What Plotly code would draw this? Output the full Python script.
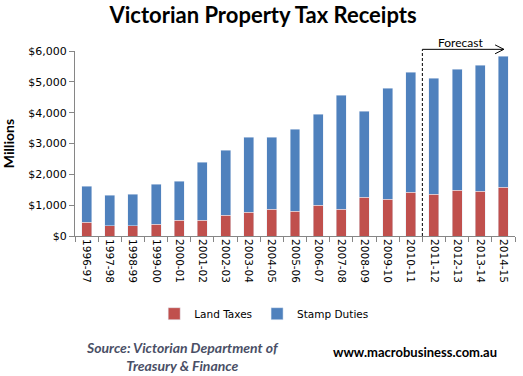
import plotly.graph_objects as go

years = ["1996-97", "1997-98", "1998-99", "1999-00", "2000-01", "2001-02", "2002-03",
         "2003-04", "2004-05", "2005-06", "2006-07", "2007-08", "2008-09", "2009-10",
         "2010-11", "2011-12", "2012-13", "2013-14", "2014-15"]
land_taxes = [443, 335, 335, 378, 508, 508, 670, 778, 865, 800, 995, 865, 1254, 1189,
              1427, 1362, 1492, 1449, 1578]
totals = [1611, 1319, 1351, 1676, 1773, 2389, 2778, 3200, 3200, 3459, 3946, 4562, 4043,
          4789, 5308, 5113, 5405, 5535, 5827]
stamp_duties = [t - l for t, l in zip(totals, land_taxes)]
y_ticks = [0, 1000, 2000, 3000, 4000, 5000, 6000]
y_tick_labels = ["$0", "$1,000", "$2,000", "$3,000", "$4,000", "$5,000", "$6,000"]

RED = "#C0504D"
BLUE = "#4F81BD"
TICKFONT = "DejaVu Sans"

fig = go.Figure()
fig.add_bar(x=years, y=land_taxes, name="Land Taxes", marker_color=RED)
fig.add_bar(x=years, y=stamp_duties, name="Stamp Duties", marker_color=BLUE)

fig.update_layout(
    barmode="stack",
    bargap=0.57,
    width=523, height=376,
    margin=dict(l=71, r=8, t=51, b=140),
    paper_bgcolor="white", plot_bgcolor="white",
    showlegend=True,
    legend=dict(orientation="h", x=0.43, xanchor="center", y=-0.42, yanchor="middle",
                font=dict(family=TICKFONT, size=10.5, color="black"),
                itemwidth=30, traceorder="normal"),
    title=dict(text="<b>Victorian Property Tax Receipts</b>", x=0.503, xanchor="center",
               y=0.96, yanchor="middle",
               font=dict(family="Lato", size=22, color="black")),
)
fig.update_yaxes(range=[0, 6000], tickvals=y_ticks, ticktext=y_tick_labels,
                 showgrid=False, showline=True, linecolor="#868686", linewidth=1,
                 ticks="outside", ticklen=5, tickcolor="#868686",
                 tickfont=dict(family=TICKFONT, size=11, color="black"),
                 title=dict(text="<b>Millions</b>", font=dict(family="Lato", size=14, color="black"),
                            standoff=10))
fig.update_xaxes(type="category", tickangle=90, showline=True, linecolor="#868686",
                 linewidth=1, ticks="outside", ticklen=5, tickcolor="#868686",
                 tickson="boundaries",
                 tickfont=dict(family=TICKFONT, size=10.5, color="black"))

# Forecast marker
fig.add_shape(type="line", xref="x", yref="paper", x0=14.5, x1=14.5, y0=0, y1=1.009,
              line=dict(color="black", width=1, dash="3px,2px"))
fig.add_shape(type="line", xref="x", yref="paper", x0=14.5, x1=18.02, y0=1.009, y1=1.009,
              line=dict(color="black", width=1))
fig.add_shape(type="line", xref="x", yref="paper", x0=17.64, x1=18.02, y0=1.033, y1=1.009,
              line=dict(color="black", width=1))
fig.add_shape(type="line", xref="x", yref="paper", x0=17.64, x1=18.02, y0=0.985, y1=1.009,
              line=dict(color="black", width=1))
fig.add_annotation(text="Forecast", xref="paper", yref="paper", x=0.877, y=1.048,
                   xanchor="center", yanchor="middle", showarrow=False,
                   font=dict(family="Lato", size=12, color="black"))

fig.add_annotation(text="<b><i>Source: Victorian Department of<br>Treasury &amp; Finance</i></b>",
                   xref="paper", yref="paper", x=(179 - 71) / 444, y=(236 - 356) / 185,
                   xanchor="center", yanchor="middle", showarrow=False, align="center",
                   font=dict(family="Lato", size=14, color="#4A4F66"))
fig.add_annotation(text="<b>www.macrobusiness.com.au</b>",
                   xref="paper", yref="paper", x=(414 - 71) / 444, y=(236 - 352) / 185,
                   xanchor="center", yanchor="middle", showarrow=False,
                   font=dict(family="Lato", size=13, color="black"))

fig.write_html("out.html", config={"displayModeBar": False},
               post_script="document.body.style.margin='0';")
